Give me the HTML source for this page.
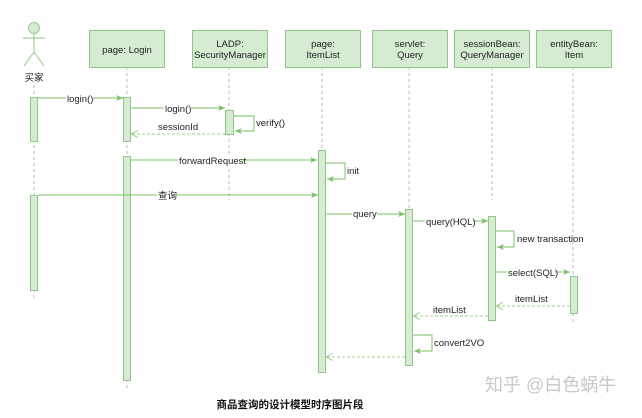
<!DOCTYPE html>
<html><head><meta charset="utf-8"><style>
html,body{margin:0;padding:0;background:#fff;}
svg{display:block;font-family:"Liberation Sans","Noto Sans CJK SC",sans-serif;}
</style></head><body>
<svg width="642" height="418" viewBox="0 0 642 418" xmlns="http://www.w3.org/2000/svg">
<defs>
<marker id="a" markerWidth="8" markerHeight="8" refX="7" refY="4" orient="auto" markerUnits="userSpaceOnUse"><path d="M0,1 L7,4 L0,7 L2,4 Z" fill="#7bbf6a"/></marker>
<marker id="o" markerWidth="8" markerHeight="8" refX="7" refY="4" orient="auto" markerUnits="userSpaceOnUse"><path d="M0,0.5 L7,4 L0,7.5" fill="none" stroke="#9fd391" stroke-width="1"/></marker>
</defs>
<g stroke="#bbb" stroke-dasharray="3,3" stroke-width="1">
<line x1="34" y1="85" x2="34" y2="300"/>
<line x1="127" y1="67" x2="127" y2="388"/>
<line x1="229" y1="67" x2="229" y2="200"/>
<line x1="322" y1="67" x2="322" y2="372"/>
<line x1="409" y1="67" x2="409" y2="365"/>
<line x1="492" y1="67" x2="492" y2="200"/>
<line x1="573" y1="67" x2="573" y2="325"/>
</g>
<g fill="#d5ebd2" stroke="#92c589" stroke-width="1">
<rect x="89.5" y="30.5" width="75" height="37"/>
<rect x="192.5" y="30.5" width="75" height="37"/>
<rect x="285.5" y="30.5" width="75" height="37"/>
<rect x="372.5" y="30.5" width="75" height="37"/>
<rect x="454.5" y="30.5" width="75" height="37"/>
<rect x="536.5" y="30.5" width="75" height="37"/>
<rect x="30.5" y="97.5" width="7" height="44"/>
<rect x="30.5" y="195.5" width="7" height="95"/>
<rect x="123.5" y="97.5" width="7" height="44"/>
<rect x="123.5" y="156.5" width="7" height="224"/>
<rect x="225.5" y="110.5" width="8" height="24"/>
<rect x="318.5" y="150.5" width="7" height="222"/>
<rect x="405.5" y="209.5" width="7" height="156"/>
<rect x="488.5" y="216.5" width="7" height="104"/>
<rect x="570.5" y="276.5" width="7" height="37"/>
</g>
<g stroke="#a8cfa0" fill="#d5ebd2" stroke-width="1.2">
<circle cx="34" cy="28" r="5.5"/>
<line x1="34" y1="33.5" x2="34" y2="52" fill="none"/>
<line x1="23" y1="38" x2="45" y2="38"/>
<line x1="34" y1="52" x2="24" y2="66"/>
<line x1="34" y1="52" x2="44" y2="66"/>
</g>
<g font-size="9.5" fill="#222" text-anchor="middle">
<text x="127" y="53">page: Login</text>
<text x="230" y="47">LADP:</text><text x="230" y="58">SecurityManager</text>
<text x="323" y="47">page:</text><text x="323" y="58">ItemList</text>
<text x="410" y="47">servlet:</text><text x="410" y="58">Query</text>
<text x="492" y="47">sessionBean:</text><text x="492" y="58">QueryManager</text>
<text x="574" y="47">entityBean:</text><text x="574" y="58">Item</text>
<text x="34" y="81">买家</text>
</g>
<g stroke="#7bbf6a" stroke-width="1" fill="none">
<line x1="38" y1="98" x2="123" y2="98" marker-end="url(#a)"/>
<line x1="131" y1="108" x2="225" y2="108" marker-end="url(#a)"/>
<polyline points="234,116 254,116 254,131 235,131" marker-end="url(#a)"/>
<line x1="131" y1="160" x2="317" y2="160" marker-end="url(#a)"/>
<line x1="38" y1="195" x2="318" y2="195" marker-end="url(#a)"/>
<polyline points="326,163 345,163 345,179 327,179" marker-end="url(#a)"/>
<line x1="326" y1="214" x2="405" y2="214" marker-end="url(#a)"/>
<line x1="413" y1="221" x2="488" y2="221" marker-end="url(#a)"/>
<polyline points="496,231 514,231 514,247 497,247" marker-end="url(#a)"/>
<line x1="496" y1="272" x2="570" y2="272" marker-end="url(#a)"/>
<polyline points="413,335 432,335 432,351 414,351" marker-end="url(#a)"/>
</g>
<g stroke="#9fd391" stroke-width="1" stroke-dasharray="3,2" fill="none">
<line x1="225" y1="134" x2="131" y2="134" marker-end="url(#o)"/>
<line x1="570" y1="306" x2="496" y2="306" marker-end="url(#o)"/>
<line x1="488" y1="316" x2="413" y2="316" marker-end="url(#o)"/>
<line x1="405" y1="357" x2="326" y2="357" marker-end="url(#o)"/>
</g>
<g font-size="9.5" fill="#222">
<rect x="66" y="92" width="27" height="11" fill="#fff"/><text x="67" y="102">login()</text>
<rect x="164" y="102" width="27" height="11" fill="#fff"/><text x="165" y="112">login()</text>
<text x="158" y="130">sessionId</text>
<text x="256" y="126">verify()</text>
<rect x="178" y="155" width="65" height="11" fill="#fff"/><text x="179" y="164">forwardRequest</text>
<rect x="157" y="190" width="20" height="11" fill="#fff"/><text x="158" y="199">查询</text>
<text x="347" y="174">init</text>
<rect x="352" y="208" width="25" height="11" fill="#fff"/><text x="353" y="217">query</text>
<rect x="425" y="215" width="48" height="11" fill="#fff"/><text x="426" y="225">query(HQL)</text>
<text x="517" y="242">new transaction</text>
<rect x="507" y="266" width="48" height="11" fill="#fff"/><text x="508" y="276">select(SQL)</text>
<text x="515" y="302">itemList</text>
<text x="433" y="313">itemList</text>
<text x="434" y="346">convert2VO</text>
</g>
<text x="290" y="408" font-size="10.5" font-weight="bold" fill="#111" text-anchor="middle">商品查询的设计模型时序图片段</text>
<text x="485" y="391" font-size="18" fill="#c8c8c8">知乎 @白色蜗牛</text>
</svg>
</body></html>
